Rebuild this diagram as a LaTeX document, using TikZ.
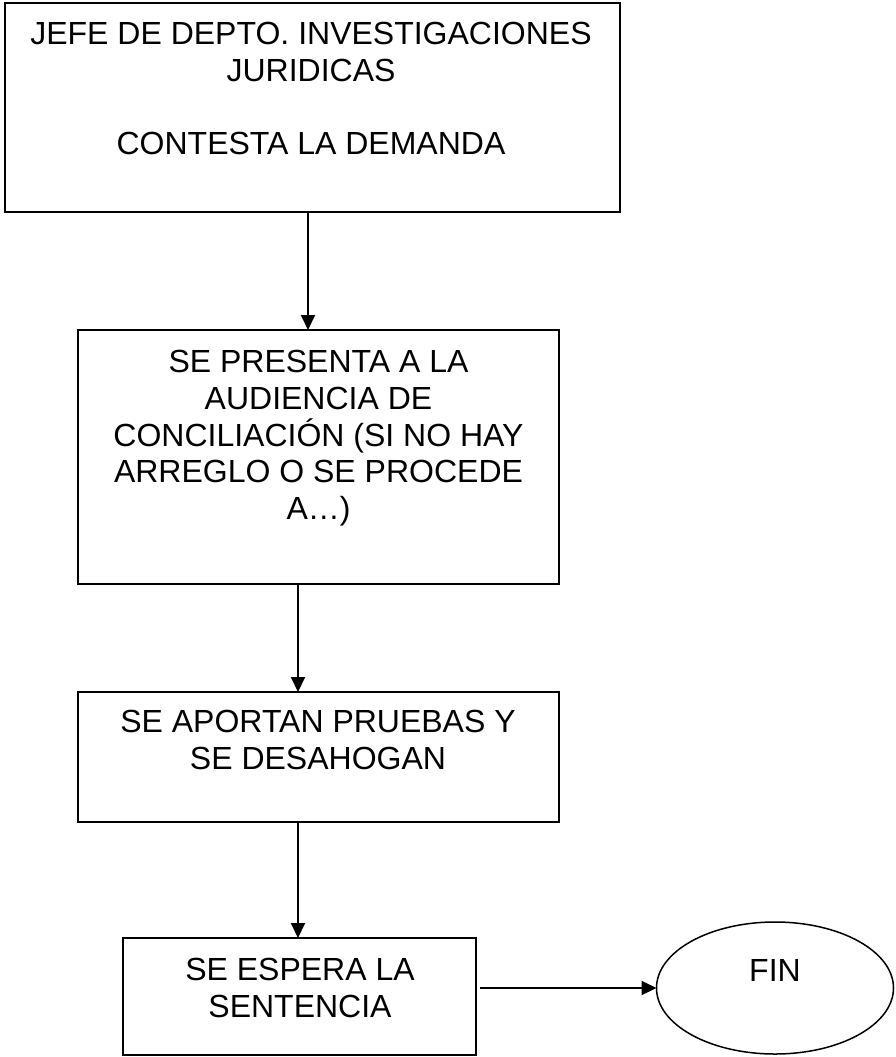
\documentclass[tikz,border=0pt]{standalone}
\usepackage{fontspec}
\setmainfont{Liberation Sans}
\usetikzlibrary{arrows.meta,shapes.geometric}
\begin{document}
\begin{tikzpicture}[x=1pt,y=1pt,
  box/.style={draw=black,line width=2pt,rectangle,inner sep=0pt,outer sep=0pt},
  txt/.style={inner sep=0pt,anchor=north,align=center,font=\fontsize{32pt}{36.8pt}\selectfont},
  arr/.style={line width=2pt,-{Triangle[length=15pt,width=14pt]}}]
\useasboundingbox (0,0) rectangle (895,-1057);
\node[box,minimum width=615.5pt,minimum height=208.5pt] (b1) at (312.25,-107.75) {};
\node[box,minimum width=481pt,minimum height=254pt] (b2) at (318.5,-457) {};
\node[box,minimum width=481pt,minimum height=130pt] (b3) at (318.5,-757) {};
\node[box,minimum width=353pt,minimum height=117pt] (b4) at (299.5,-996.5) {};
\node[draw=black,line width=1.5pt,ellipse,inner sep=0pt,outer sep=0pt,minimum width=237pt,minimum height=132pt] (fin) at (775,-988) {};
\node[txt] (t1) at (311,-22) {JEFE DE DEPTO. INVESTIGACIONES\\JURIDICAS\\[36.8pt]CONTESTA LA DEMANDA};
\node[txt] (t2) at (318.5,-350) {SE PRESENTA A LA\\AUDIENCIA DE\\CONCILIACIÓN (SI NO HAY\\ARREGLO O SE PROCEDE\\A…)};
\node[txt] (t3) at (318,-710) {SE APORTAN PRUEBAS Y\\SE DESAHOGAN};
\node[txt] (t4) at (300,-958) {SE ESPERA LA\\SENTENCIA};
\node[inner sep=0pt,font=\fontsize{32pt}{36.8pt}\selectfont] (tf) at (775,-970.5) {FIN};
\draw[arr] ([xshift=-4.25pt]b1.south) -- ([xshift=-10.5pt]b2.north);
\draw[arr] ([xshift=-20.5pt]b2.south) -- ([xshift=-20.5pt]b3.north);
\draw[arr] ([xshift=-20.5pt]b3.south) -- ([xshift=-1.5pt]b4.north);
\draw[arr] ([xshift=4pt,yshift=8.5pt]b4.east) -- (fin.west);
\end{tikzpicture}
\end{document}
